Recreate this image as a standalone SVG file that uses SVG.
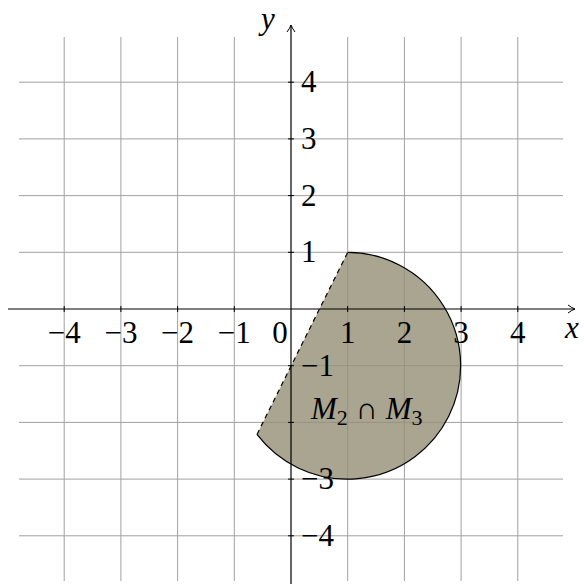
<svg xmlns="http://www.w3.org/2000/svg" width="584" height="584" viewBox="0 0 584 584">
<style>
.grid line{stroke:#a0a0a0;stroke-width:1}
.axis{stroke:#000;stroke-width:1.2;fill:none}
.tick{stroke:#000;stroke-width:1}
text{font-family:"Liberation Serif","DejaVu Serif",serif;font-size:31px;fill:#000}
.xl{text-anchor:middle}
.it{font-style:italic}
</style>
<defs>
<marker id="arr" markerWidth="10" markerHeight="10" refX="8" refY="5" orient="auto" markerUnits="userSpaceOnUse">
<path d="M1,1 Q5,4 8,5 Q5,6 1,9" fill="none" stroke="#000" stroke-width="1"/>
</marker>
</defs>
<rect width="584" height="584" fill="#fff"/>
<g id="grid" class="grid">
<line x1="64.2" y1="37" x2="64.2" y2="581"/>
<line x1="120.9" y1="37" x2="120.9" y2="581"/>
<line x1="177.6" y1="37" x2="177.6" y2="581"/>
<line x1="234.3" y1="37" x2="234.3" y2="581"/>
<line x1="347.7" y1="37" x2="347.7" y2="581"/>
<line x1="404.4" y1="37" x2="404.4" y2="581"/>
<line x1="461.1" y1="37" x2="461.1" y2="581"/>
<line x1="517.8" y1="37" x2="517.8" y2="581"/>
<line x1="19" y1="82.2" x2="563" y2="82.2"/>
<line x1="19" y1="138.9" x2="563" y2="138.9"/>
<line x1="19" y1="195.6" x2="563" y2="195.6"/>
<line x1="19" y1="252.3" x2="563" y2="252.3"/>
<line x1="19" y1="365.7" x2="563" y2="365.7"/>
<line x1="19" y1="422.4" x2="563" y2="422.4"/>
<line x1="19" y1="479.1" x2="563" y2="479.1"/>
<line x1="19" y1="535.8" x2="563" y2="535.8"/>
</g>
<g id="region">
<path d="M347.7,252.3 A113.4,113.4 0 1 1 257,434.4 Z" fill="#948f76" fill-opacity="0.8" stroke="none"/>
<path d="M347.7,252.3 A113.4,113.4 0 1 1 257,434.4" fill="none" stroke="#000" stroke-width="1.2"/>
</g>
<g id="connectors">
<line x1="257" y1="434.4" x2="347.7" y2="252.3" stroke="#000" stroke-width="1.2" stroke-dasharray="5,4"/>
</g>
<g id="axes">
<line class="axis" x1="8" y1="309" x2="575" y2="309" marker-end="url(#arr)"/>
<line class="axis" x1="291" y1="584" x2="291" y2="25" marker-end="url(#arr)"/>
<g class="tick">
<line x1="64.2" y1="306" x2="64.2" y2="312"/>
<line x1="120.9" y1="306" x2="120.9" y2="312"/>
<line x1="177.6" y1="306" x2="177.6" y2="312"/>
<line x1="234.3" y1="306" x2="234.3" y2="312"/>
<line x1="347.7" y1="306" x2="347.7" y2="312"/>
<line x1="404.4" y1="306" x2="404.4" y2="312"/>
<line x1="461.1" y1="306" x2="461.1" y2="312"/>
<line x1="517.8" y1="306" x2="517.8" y2="312"/>
<line x1="288" y1="82.2" x2="294" y2="82.2"/>
<line x1="288" y1="138.9" x2="294" y2="138.9"/>
<line x1="288" y1="195.6" x2="294" y2="195.6"/>
<line x1="288" y1="252.3" x2="294" y2="252.3"/>
<line x1="288" y1="365.7" x2="294" y2="365.7"/>
<line x1="288" y1="422.4" x2="294" y2="422.4"/>
<line x1="288" y1="479.1" x2="294" y2="479.1"/>
<line x1="288" y1="535.8" x2="294" y2="535.8"/>
</g>
<text class="it" x="261" y="29">y</text>
<text class="it" x="565" y="338">x</text>
</g>
<g id="labels">
<text class="xl" x="64.2" y="343">−4</text>
<text class="xl" x="120.9" y="343">−3</text>
<text class="xl" x="177.6" y="343">−2</text>
<text class="xl" x="234.3" y="343">−1</text>
<text class="xl" x="280" y="343">0</text>
<text class="xl" x="347.7" y="343">1</text>
<text class="xl" x="404.4" y="343">2</text>
<text class="xl" x="461.1" y="343">3</text>
<text class="xl" x="517.8" y="343">4</text>
<text x="301" y="92">4</text>
<text x="301" y="149">3</text>
<text x="301" y="206">2</text>
<text x="301" y="262">1</text>
<text x="301" y="376">−1</text>
<text x="301" y="489">−3</text>
<text x="301" y="546">−4</text>
<text x="311" y="419"><tspan class="it">M</tspan><tspan font-size="22" dy="6">2</tspan><tspan dy="-6"> ∩ </tspan><tspan class="it">M</tspan><tspan font-size="22" dy="6">3</tspan></text>
</g>
</svg>
